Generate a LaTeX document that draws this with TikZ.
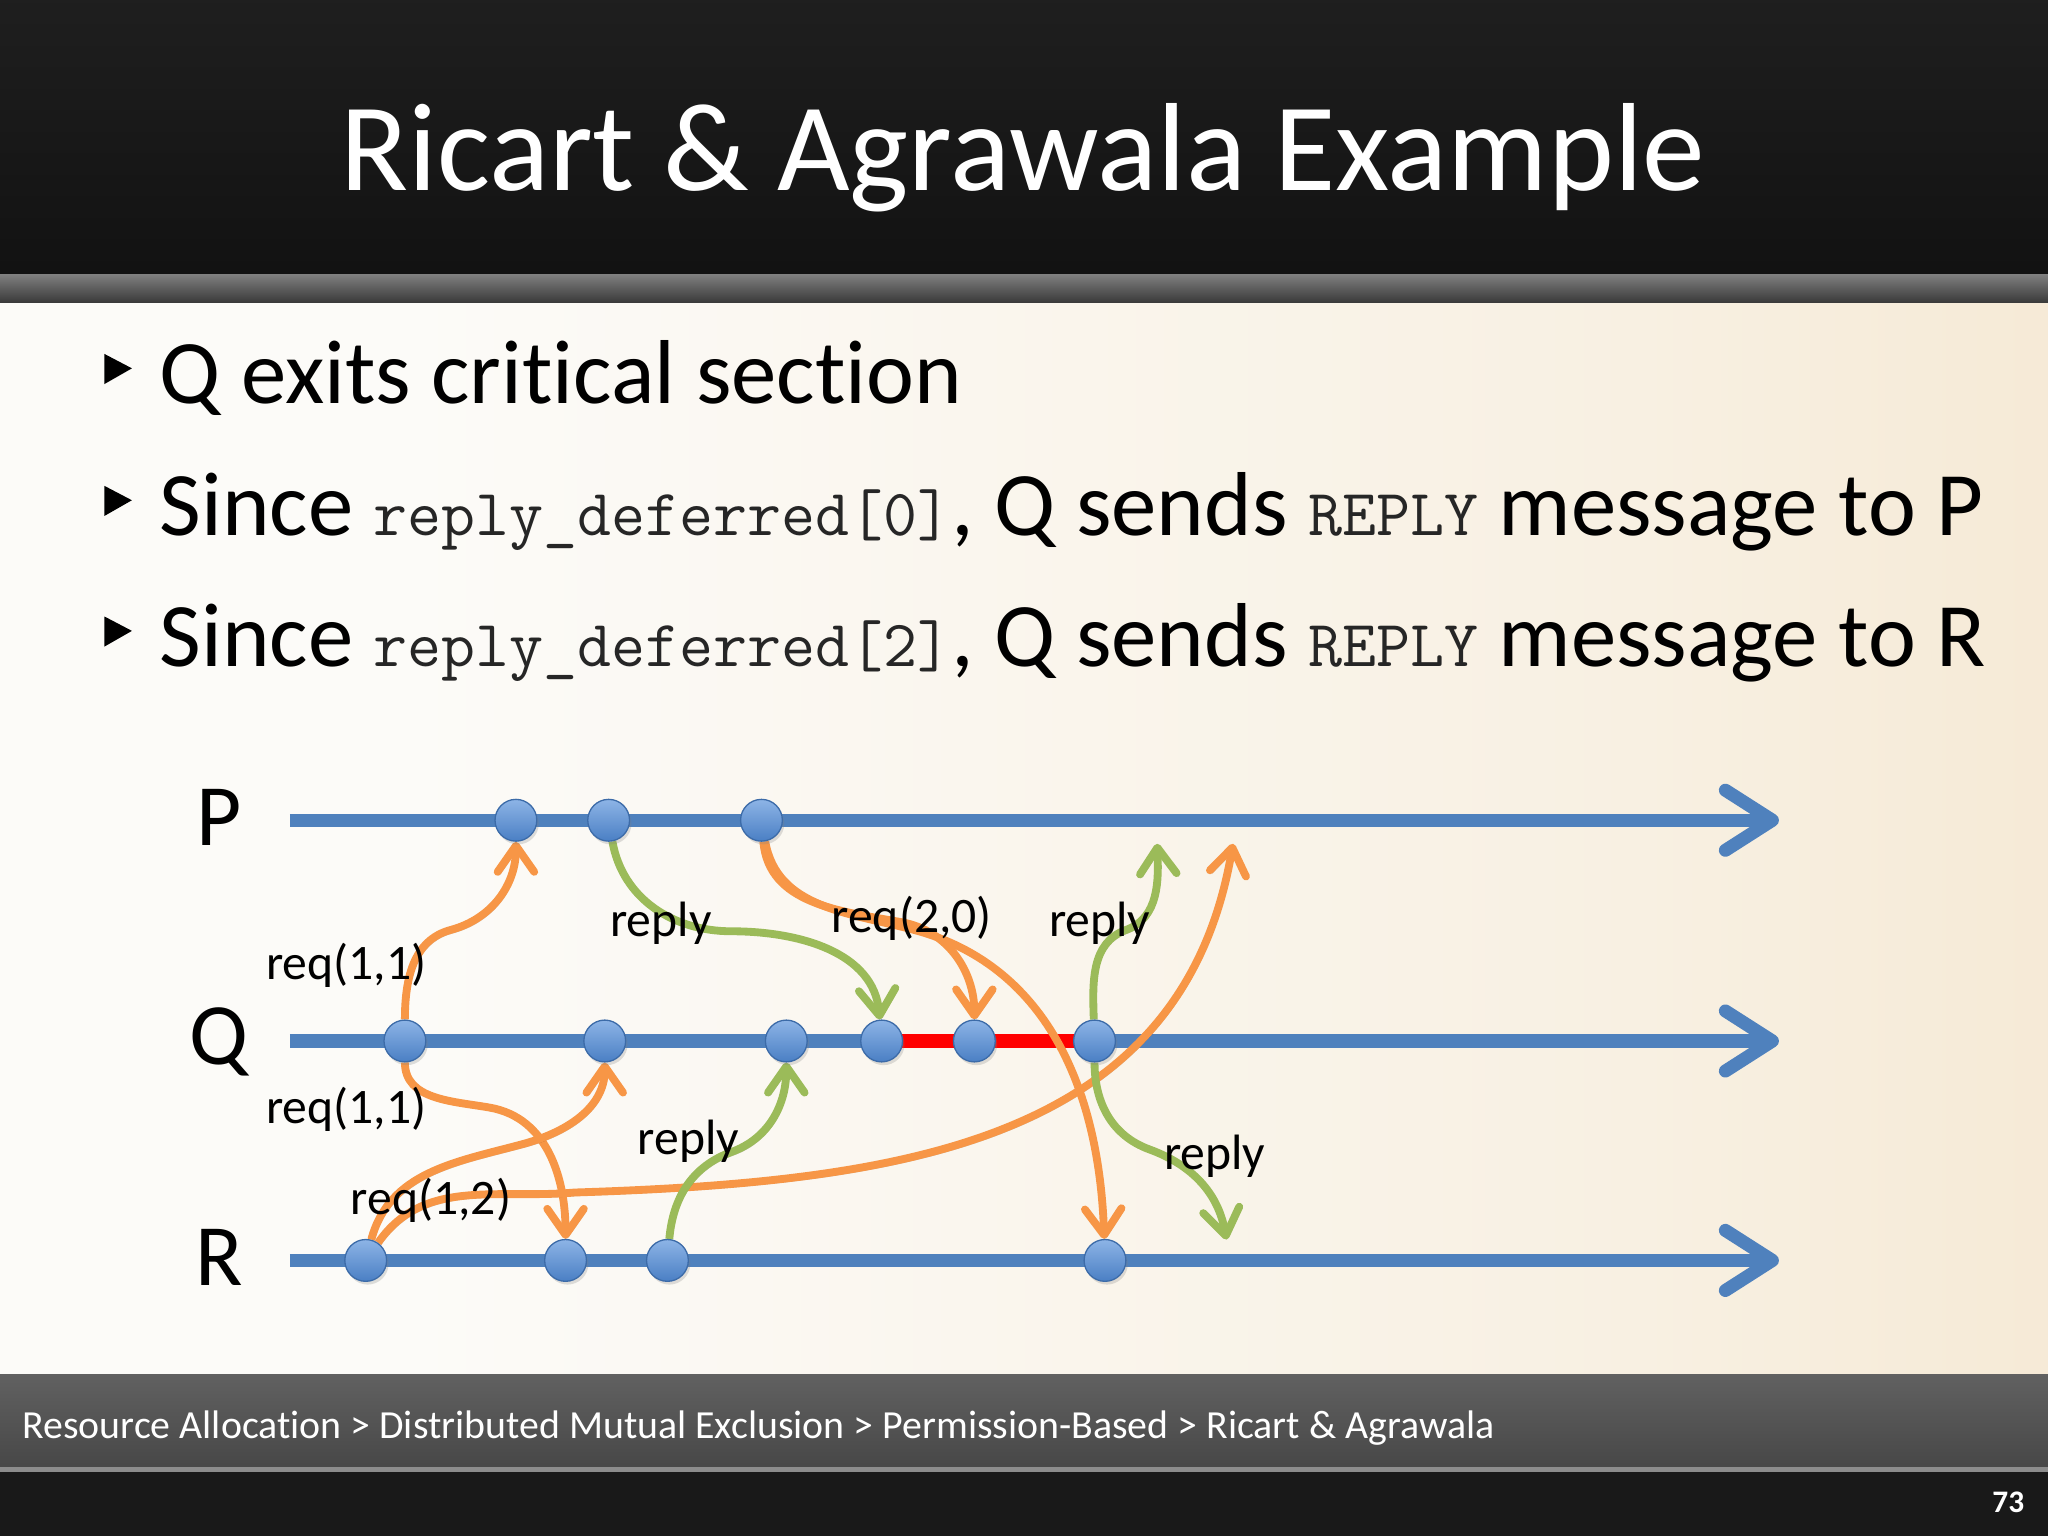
\documentclass[tikz,border=0pt]{standalone}
\usepackage{fontspec}
\setmainfont{Carlito}[Ligatures=CommonOff]
\usetikzlibrary{arrows.meta,positioning,shadows}

\definecolor{tlblue}{HTML}{4F81BD}
\definecolor{dottop}{HTML}{8DB4E6}
\definecolor{dotbot}{HTML}{4A7FC4}
\definecolor{dotedge}{HTML}{3C6BA8}
\definecolor{reqorange}{HTML}{F79646}
\definecolor{replygreen}{HTML}{9BBB59}
\definecolor{csred}{HTML}{FF0000}
\definecolor{bgA}{HTML}{FCFBF8}
\definecolor{bgB}{HTML}{F8F0E2}
\definecolor{bgC}{HTML}{F3E4CB}
\definecolor{bgD}{HTML}{EFDCBC}
\definecolor{codegray}{HTML}{262626}

\pgfdeclarehorizontalshading{slidebg}{100bp}{color(0bp)=(bgA); color(35bp)=(bgA); color(65bp)=(bgB); color(85bp)=(bgC); color(100bp)=(bgD)}

\pgfdeclarelayer{slide}
\pgfdeclarelayer{wires}
\pgfsetlayers{slide,wires,main}

\newcommand{\codetext}[1]{{\ttfamily\fontsize{50.5}{53}\selectfont\color{codegray}#1}}

\tikzset{
  wireshadow/.style={preaction={draw=black, draw opacity=.2, transform canvas={shift={(1.5pt,-2.5pt)}}}},
  timeline/.style={draw=tlblue, line width=10pt, wireshadow, -{Straight Barb[length=36pt,width=46pt,round]}},
  critical/.style={draw=csred, line width=10pt},
  req/.style={draw=reqorange, line width=6pt, wireshadow, -{Straight Barb[length=20pt,width=28pt,round]}},
  reply/.style={draw=replygreen, line width=6pt, wireshadow, -{Straight Barb[length=20pt,width=28pt,round]}},
  event/.style={circle, minimum size=32pt, inner sep=0pt, draw=dotedge, line width=1pt, top color=dottop, bottom color=dotbot, drop shadow={shadow xshift=1.5pt, shadow yshift=-2.5pt, opacity=.25}},
  proc/.style={anchor=base, font=\fontsize{67}{70}\selectfont},
  msg/.style={inner sep=0pt, font=\fontsize{38}{40}\selectfont},
  item/.style={anchor=base west, inner sep=0pt, font=\fontsize{69.5}{72}\selectfont},
}

\begin{document}
\begin{tikzpicture}[x=1pt,y=-1pt]
\useasboundingbox (0,0) rectangle (1568,1176);

% slide background
\begin{pgfonlayer}{slide}
  \fill[black!90] (0,0) rectangle (1568,1176);
  \shade[top color=black!88, bottom color=black!93] (0,0) rectangle (1568,210);
  \shade[top color=black!50, bottom color=black!78] (0,210) rectangle (1568,232);
  \shade[shading=slidebg] (0,232) rectangle (1568,1052);
  \shade[top color=black!62, bottom color=black!72] (0,1052) rectangle (1568,1123);
  \fill[black!45] (0,1123) rectangle (1568,1127);
  \fill[black!90] (0,1127) rectangle (1568,1176);
\end{pgfonlayer}

% title, bullets, footer
\node[anchor=base, text=white, font=\fontsize{96}{100}\selectfont] (title) at (783,146) {Ricart \& Agrawala Example};

\fill (80,271) -- (101,282) -- (80,294) -- cycle;
\fill (80,372) -- (101,383) -- (80,395) -- cycle;
\fill (80,472) -- (101,483) -- (80,495) -- cycle;
\node[item] (item1) at (122,309) {Q exits critical section};
\node[item] (item2) at (122,410) {Since \codetext{reply\_deferred[0]}, Q sends \codetext{REPLY} message to P};
\node[item] (item3) at (122,510) {Since \codetext{reply\_deferred[2]}, Q sends \codetext{REPLY} message to R};

\node[anchor=base west, text=white, inner sep=0pt, font=\fontsize{30.5}{33}\selectfont] (crumb) at (17,1101) {Resource Allocation > Distributed Mutual Exclusion > Permission-Based > Ricart \& Agrawala};
\node[anchor=base east, text=white, inner sep=0pt, font=\bfseries\fontsize{24}{26}\selectfont] (pagenum) at (1550,1158) {73};

% processes
\node[proc] (lblP) at (168,647) {P};
\node[proc] (lblQ) at (168,815) {Q};
\node[proc] (lblR) at (168,984) {R};
\coordinate (Ps) at (222,628);
\coordinate (Pe) at (1362,628);
\coordinate (Qs) at (222,797);
\coordinate (Qe) at (1362,797);
\coordinate (Rs) at (222,965);
\coordinate (Re) at (1362,965);

% events
\node[event] (p1) at (395,628) {};
\node[event] (p2) at (466,628) {};
\node[event] (p3) at (583,628) {};
\node[event] (q1) at (310,797) {};
\node[event] (q2) at (463,797) {};
\node[event] (q3) at (602,797) {};
\node[event] (q4) at (675,797) {};
\node[event] (q5) at (746,797) {};
\node[event] (q6) at (838,797) {};
\node[event] (r1) at (280,965) {};
\node[event] (r2) at (433,965) {};
\node[event] (r3) at (511,965) {};
\node[event] (r4) at (846,965) {};
\coordinate (pa) at (886,646);
\coordinate (pb) at (944,646);
\coordinate (rc) at (939,949);

% messages
\begin{pgfonlayer}{wires}
  \draw[timeline] (Ps) -- (Pe);
  \draw[timeline] (Qs) -- (Qe);
  \draw[timeline] (Rs) -- (Re);
  \draw[critical] (q4.center) -- (q6.center);

  \draw[req] (q1) to[out=90,in=195] (345,712) to[out=15,in=-90] (p1);
  \draw[req] (q1) to[out=-90,in=170] (375,848) to[out=-10,in=90] (r2);
  \draw[req] (r1) to[out=75,in=195] (400,876) to[out=15,in=-90] (q2);
  \draw[req] (r1) to[out=55,in=185] (440,913) .. controls (690,905) and (905,875) .. (pb);
  \draw[req] (p3) to[out=-85,in=170] (690,706) to[out=-10,in=90] (q5);
  \draw[req] (p3) to[out=-80,in=165] (700,712) to[out=-15,in=92] (r4);

  \draw[reply] (p2) to[out=-80,in=180] (560,713) to[out=0,in=95] (q4);
  \draw[reply] (r3) to[out=85,in=200] (560,882) to[out=20,in=-90] (q3);
  \draw[reply] (q6) to[out=92,in=200] (862,712) to[out=20,in=-88] (pa);
  \draw[reply] (q6) to[out=-90,in=160] (880,880) to[out=-20,in=100] (rc);
\end{pgfonlayer}

\node[msg] (m1) at (265,739) {req(1,1)};
\node[msg] (m2) at (265,849) {req(1,1)};
\node[msg] (m3) at (330,919) {req(1,2)};
\node[msg] (m4) at (698,703) {req(2,0)};
\node[msg] (m5) at (506,707) {reply};
\node[msg] (m6) at (527,874) {reply};
\node[msg] (m7) at (842,707) {reply};
\node[msg] (m8) at (930,885) {reply};
\end{tikzpicture}
\end{document}
